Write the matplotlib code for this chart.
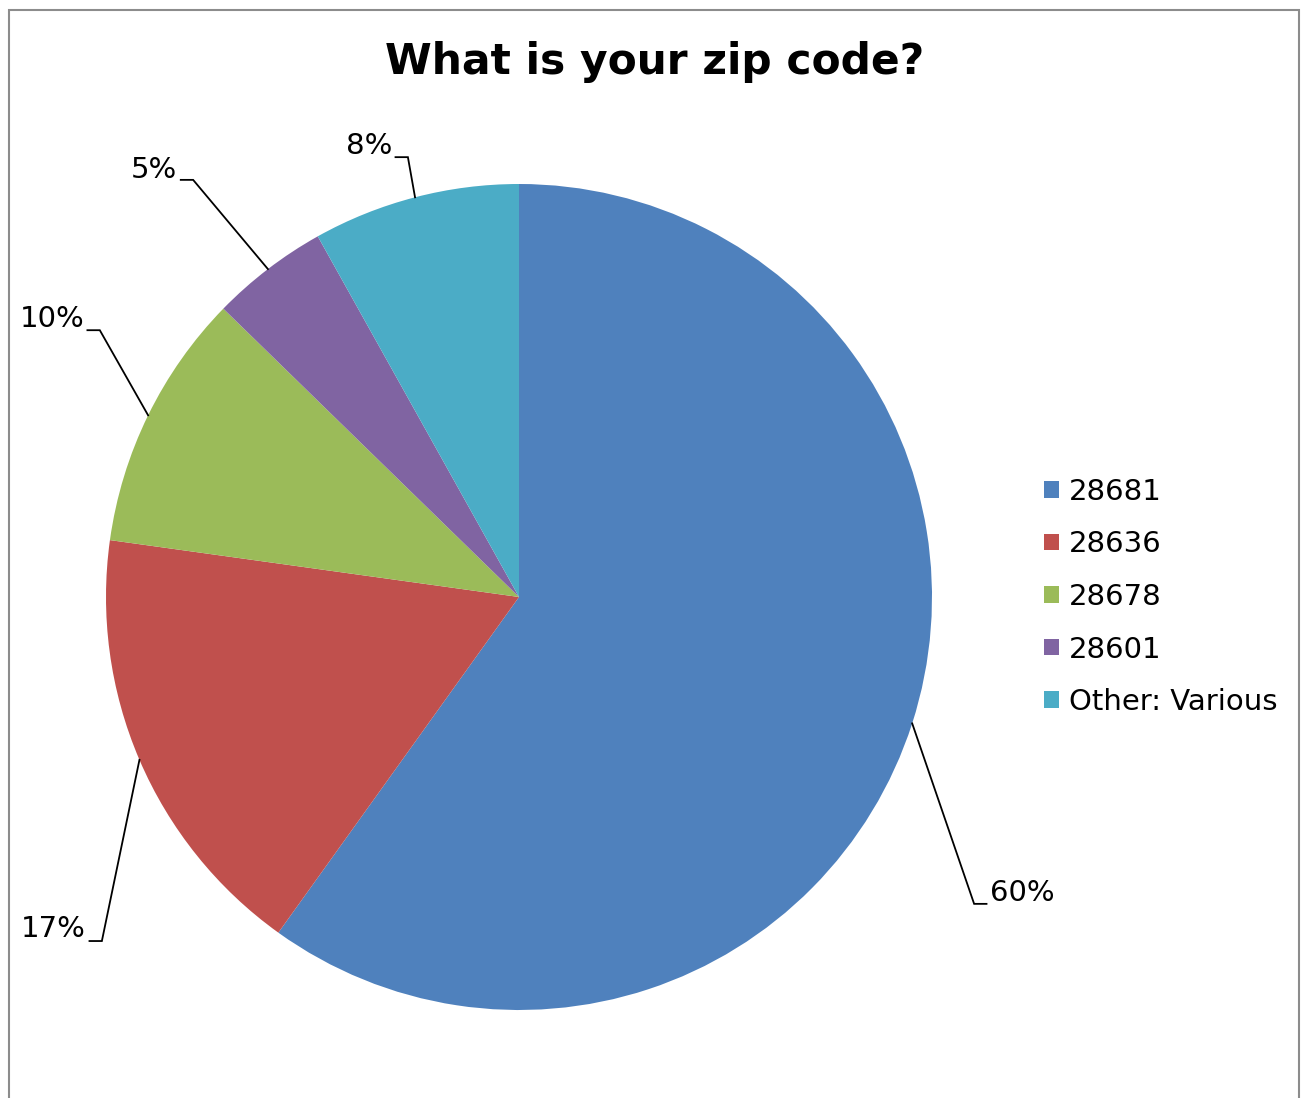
import numpy as np
import matplotlib
matplotlib.use("Agg")
import matplotlib.pyplot as plt
from matplotlib.patches import Rectangle, Patch

# dados (percentuais)
zips = ["28681", "28636", "28678", "28601", "Other: Various"]
shares = [59.9, 17.3, 10.1, 4.6, 8.1]
pct_labels = ["60%", "17%", "10%", "5%", "8%"]
colors = ["#4F81BD", "#C0504D", "#9BBB59", "#8064A2", "#4BACC6"]

# cotovelo da linha-guia e lado do rótulo (coordenadas do eixo, raio = 1)
elbows = [(1.102, -0.743), (-1.010, -0.833), (-1.015, 0.646), (-0.789, 1.010), (-0.269, 1.065)]
sides = [1, -1, -1, -1, -1]
text_dy = [0.027, 0.028, 0.028, 0.025, 0.026]

W, H = 1301, 1098
fig = plt.figure(figsize=(W / 100, H / 100), dpi=100)
fig.patch.set_facecolor("white")

# moldura cinza
fig.add_artist(Rectangle((8.5 / W, -0.05), (1299 - 8.5) / W, 1 - 9.5 / H + 0.05,
                         transform=fig.transFigure, fill=False,
                         edgecolor="#8c8c8c", linewidth=1.5))

cx, cy, r = 519, 597, 413
ax = fig.add_axes([(cx - r) / W, 1 - (cy + r) / H, 2 * r / W, 2 * r / H])
wedges, _ = ax.pie(shares, colors=colors, startangle=90, counterclock=False,
                   radius=1, wedgeprops=dict(linewidth=0))
ax.set_xlim(-1, 1)
ax.set_ylim(-1, 1)
ax.set_aspect("equal")
ax.axis("off")

# linhas-guia a partir do meio de cada fatia
for w, lab, (ex, ey), s, dy in zip(wedges, pct_labels, elbows, sides, text_dy):
    ang = np.deg2rad((w.theta1 + w.theta2) / 2)
    ax_, ay_ = np.cos(ang), np.sin(ang)
    endx = ex + s * 0.03
    ax.plot([ax_, ex, endx], [ay_, ey, ey], color="black", lw=1.3,
            clip_on=False, solid_joinstyle="miter")
    ax.text(endx + s * 0.008, ey + dy, lab, fontsize=21,
            ha="left" if s > 0 else "right", va="center")

fig.text(655 / W, 1 - 62 / H, "What is your zip code?", fontsize=30.5,
         fontweight="bold", ha="center", va="center")

handles = [Patch(facecolor=c, edgecolor="none") for c in colors]
fig.legend(handles, zips, loc="center left", bbox_to_anchor=(1044 / W, 1 - 597 / H),
           frameon=False, fontsize=21, handlelength=0.5, handleheight=0.5,
           handletextpad=0.35, labelspacing=0.84, borderpad=0, borderaxespad=0)

fig.savefig("out.png", dpi=100, facecolor="white")
